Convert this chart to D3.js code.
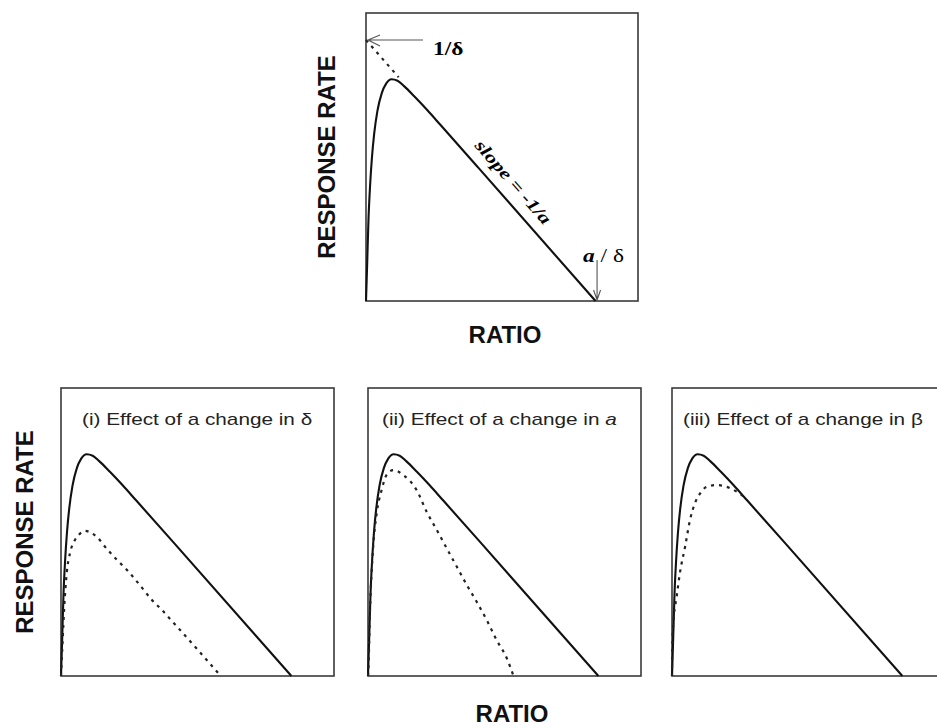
<!DOCTYPE html>
<html>
<head>
<meta charset="utf-8">
<script src="https://cdn.jsdelivr.net/npm/d3@7"></script>
<style>
  body { margin: 0; background: #fff; }
  svg { display: block; }
</style>
</head>
<body>
<svg id="chart" width="937" height="728"></svg>
<script>
// values (ratio and rate in % of the panel box)
const ratioSolid = [0, 0.4, 0.9, 1.5, 2.2, 3.0, 4.2, 5.8, 7.4, 9.4, 11.6, 14.0, 18.0, 22.5, 27.5, 41.2, 84.4]
const rateSolid  = [0, 12, 28, 40, 50, 58, 66, 72.2, 75.5, 77.0, 76.5, 74.6, 70.8, 66.3, 61.0, 46.4, 0]

const ratioAsym = [0, 12.0]
const rateAsym  = [90.6, 77.7]

const ratioDelta = [0, 0.5, 1.2, 2.1, 3.3, 5.1, 6.5, 8.8, 11.2, 13.1, 16.8, 20.5, 24.2, 29.7, 33.3, 37.0, 41.3, 50.0, 58.5]
const rateDelta  = [0, 10.2, 24.1, 35.8, 42.7, 47.2, 49.0, 50.4, 49.6, 48.3, 44.1, 40.3, 36.8, 30.6, 26.4, 22.9, 18.4, 9.2, 0]

const ratioA = [0, 0.1, 0.7, 1.9, 3.2, 5.0, 6.8, 9.3, 12.9, 17.8, 21.5, 25.2, 28.8, 32.5, 36.2, 39.8, 43.5, 47.1, 50.8, 53.3]
const rateA  = [0, 1.0, 21.9, 44.9, 56.6, 64.6, 69.8, 71.5, 69.8, 64.6, 57.0, 50.7, 44.4, 38.0, 31.6, 25.8, 19.4, 12.5, 6.25, 0]

const ratioBeta = [0, 0.1, 0.5, 1.7, 2.9, 4.8, 6.6, 8.4, 10.3, 12.7, 16.4, 20.0, 23.7, 27.5]
const rateBeta  = [0, 10.2, 18.4, 27.5, 35.8, 44.9, 54.2, 60.0, 63.4, 65.7, 66.3, 65.7, 64.0, 61.3]

const interceptRate = 90.6   // 1/δ
const interceptRatio = 84.4  // a/δ

const titles = ['(i) Effect of a change in ', '(ii) Effect of a change in ', '(iii) Effect of a change in ']
const titleSymbols = ['δ', 'a', 'β']

const svg = d3.select('#chart')
const SANS = "'Liberation Sans', Arial, sans-serif"
const SERIF = "'Liberation Serif', 'Times New Roman', serif"

const zip = (xs, ys) => xs.map((v, i) => [v, ys[i]])

// stretch text horizontally, the scan is wider than the fonts
function stretch(sel, k) {
  sel.each(function() {
    const len = this.getComputedTextLength()
    d3.select(this).attr('textLength', len * k).attr('lengthAdjust', 'spacingAndGlyphs')
  })
}

function panel(box) {
  const g = svg.append('g').attr('transform', `translate(${box.left},${box.top})`)
  const x = d3.scaleLinear().domain([0, 100]).range([0, box.w])
  const y = d3.scaleLinear().domain([0, 100]).range([box.h, 0])
  const line = d3.line().x(d => x(d[0])).y(d => y(d[1])).curve(d3.curveMonotoneX)

  g.append('rect')
    .attr('width', box.w).attr('height', box.h)
    .attr('fill', 'none').attr('stroke', '#3a3a3a').attr('stroke-width', 1.6)

  g.append('path')
    .datum(zip(ratioSolid, rateSolid))
    .attr('d', line)
    .attr('fill', 'none').attr('stroke', '#111').attr('stroke-width', 2.1)

  return { g, x, y, line }
}

function dotted(p, xs, ys) {
  p.g.append('path')
    .datum(zip(xs, ys))
    .attr('d', p.line)
    .attr('fill', 'none').attr('stroke', '#222')
    .attr('stroke-width', 2.2).attr('stroke-dasharray', '3,5')
}

// ---- top panel
const mainPanel = panel({ left: 366, top: 13, w: 272, h: 288 })
dotted(mainPanel, ratioAsym, rateAsym)

{
  const { g, x, y } = mainPanel
  const y0 = y(interceptRate)
  g.append('path')
    .attr('d', `M${x(0) + 57},${y0}H${x(0) + 2}M${x(0) + 14},${y0 - 5}L${x(0) + 2},${y0}L${x(0) + 14},${y0 + 6}`)
    .attr('fill', 'none').attr('stroke', '#555').attr('stroke-width', 1.1)
  g.append('text')
    .attr('x', x(0) + 67).attr('y', y0 + 15)
    .style('font-family', SERIF).style('font-size', '18px').style('font-weight', 'bold')
    .text('1/δ')
    .call(stretch, 1.3)

  const xa = x(interceptRatio) + 1.5
  g.append('path')
    .attr('d', `M${xa},${y(0) - 41}V${y(0) - 1}M${xa - 3.5},${y(0) - 11}L${xa},${y(0) - 1}L${xa + 3.5},${y(0) - 11}`)
    .attr('fill', 'none').attr('stroke', '#555').attr('stroke-width', 1.1)
  const at = g.append('text')
    .attr('x', xa - 14).attr('y', y(0) - 39)
    .style('font-family', SERIF).style('font-size', '18px')
  at.append('tspan').style('font-style', 'italic').style('font-weight', 'bold').text('a')
  at.append('tspan').text(' / δ')
  at.call(stretch, 1.3)

  const angle = Math.atan2(y(0) - y(interceptRate), x(interceptRatio) - x(0)) * 180 / Math.PI
  const r = 49.5
  const sx = x(r), sy = y(interceptRate * (1 - r / interceptRatio))
  g.append('text')
    .attr('transform', `translate(${sx},${sy}) rotate(${angle})`)
    .attr('text-anchor', 'middle').attr('dy', -11)
    .style('font-family', SERIF).style('font-size', '17px')
    .style('font-style', 'italic').style('font-weight', 'bold')
    .text('slope = -1/a')
    .call(stretch, 1.3)
}

// ---- bottom panels
const lefts = [61, 368, 672]
const bottomData = [[ratioDelta, rateDelta], [ratioA, rateA], [ratioBeta, rateBeta]]
const titleDx = [21, 14, 11]

lefts.forEach((left, i) => {
  const p = panel({ left, top: 388, w: 273, h: 288 })
  dotted(p, bottomData[i][0], bottomData[i][1])
  const t = p.g.append('text')
    .attr('x', titleDx[i]).attr('y', 37)
    .style('font-family', SANS).style('font-size', '17px').attr('fill', '#222')
  t.append('tspan').text(titles[i])
  t.append('tspan').style('font-style', i === 1 ? 'italic' : 'normal').text(titleSymbols[i])
  t.call(stretch, 1.22)
})

// ---- axis titles
const axisLabel = (x, y, txt, rot) => svg.append('text')
  .attr('transform', `translate(${x},${y})` + (rot ? ' rotate(-90)' : ''))
  .attr('text-anchor', 'middle')
  .style('font-family', SANS).style('font-size', '24px').style('font-weight', 'bold')
  .attr('fill', '#111')
  .text(txt)

axisLabel(335, 157, 'RESPONSE RATE', true)
axisLabel(33, 532, 'RESPONSE RATE', true)
axisLabel(505, 343, 'RATIO', false)
axisLabel(512, 722, 'RATIO', false)
</script>
</body>
</html>
